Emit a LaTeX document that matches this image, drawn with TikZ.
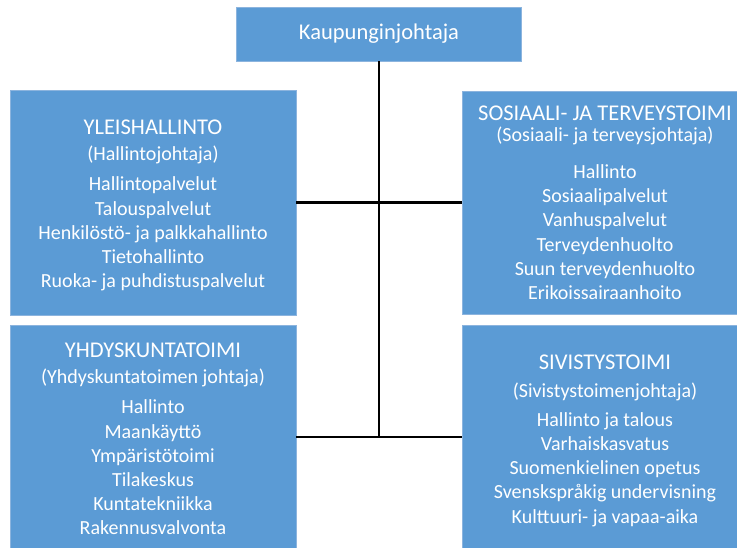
\documentclass[tikz,border=0pt]{standalone}
\usepackage{fontspec}
\setmainfont{Carlito}
\definecolor{boxblue}{HTML}{5B9BD5}
\definecolor{boxedge}{HTML}{8CB4DE}
\newcommand{\ttl}[1]{{\fontsize{22.5}{24}\selectfont #1}}
\begin{document}
\begin{tikzpicture}[x=1pt,y=-1pt,
  orgbox/.style={draw=boxedge, line width=0.8pt, fill=boxblue, inner sep=0pt},
  boxtext/.style={text=white, align=center, inner sep=0pt, font=\fontsize{20}{24.2}\selectfont},
  link/.style={line width=2.6pt, black}]
\useasboundingbox (0,0) rectangle (737,547);
\clip (0,0) rectangle (737,547);
\node[orgbox, minimum width=285pt, minimum height=54pt] (top) at (379,34) {};
\node[boxtext, font=\fontsize{22.5}{26}\selectfont] (toptext) at (top.center) {Kaupunginjohtaja};
\node[orgbox, minimum width=286pt, minimum height=225pt] (yl) at (153,202.5) {};
\node[orgbox, minimum width=286pt, minimum height=223pt] (so) at (605,202.5) {};
\node[orgbox, minimum width=286pt, minimum height=224pt] (yh) at (153,437) {};
\node[orgbox, minimum width=286pt, minimum height=224pt] (si) at (605,437) {};
\node[boxtext] (yltext) at ([yshift=-3pt]yl.center)
  {\ttl{YLEISHALLINTO}\\[2pt] (Hallintojohtaja)\\[6pt] Hallintopalvelut\\ Talouspalvelut\\ Henkilöstö- ja palkkahallinto\\ Tietohallinto\\ Ruoka- ja puhdistuspalvelut};
\node[boxtext] (sotext) at (so.center)
  {\ttl{SOSIAALI- JA TERVEYSTOIMI}\\[-3pt] (Sosiaali- ja terveysjohtaja)\\[13pt] Hallinto\\ Sosiaalipalvelut\\ Vanhuspalvelut\\ Terveydenhuolto\\ Suun terveydenhuolto\\ Erikoissairaanhoito};
\node[boxtext] (yhtext) at ([yshift=-2pt]yh.center)
  {\ttl{YHDYSKUNTATOIMI}\\[2pt] (Yhdyskuntatoimen johtaja)\\[6pt] Hallinto\\ Maankäyttö\\ Ympäristötoimi\\ Tilakeskus\\ Kuntatekniikka\\ Rakennusvalvonta};
\node[boxtext] (sitext) at ([yshift=-4pt]si.center)
  {\ttl{SIVISTYSTOIMI}\\[3pt] (Sivistystoimenjohtaja)\\[5pt] Hallinto ja talous\\ Varhaiskasvatus\\ Suomenkielinen opetus\\ Svenskspråkig undervisning\\ Kulttuuri- ja vapaa-aika};
\coordinate (junction) at (top.south |- yh.east);
\draw[link] (top.south) -- (junction);
\draw[link] (yl.east) -- (so.west);
\draw[link] (yh.east) -- (si.west);
\end{tikzpicture}
\end{document}
